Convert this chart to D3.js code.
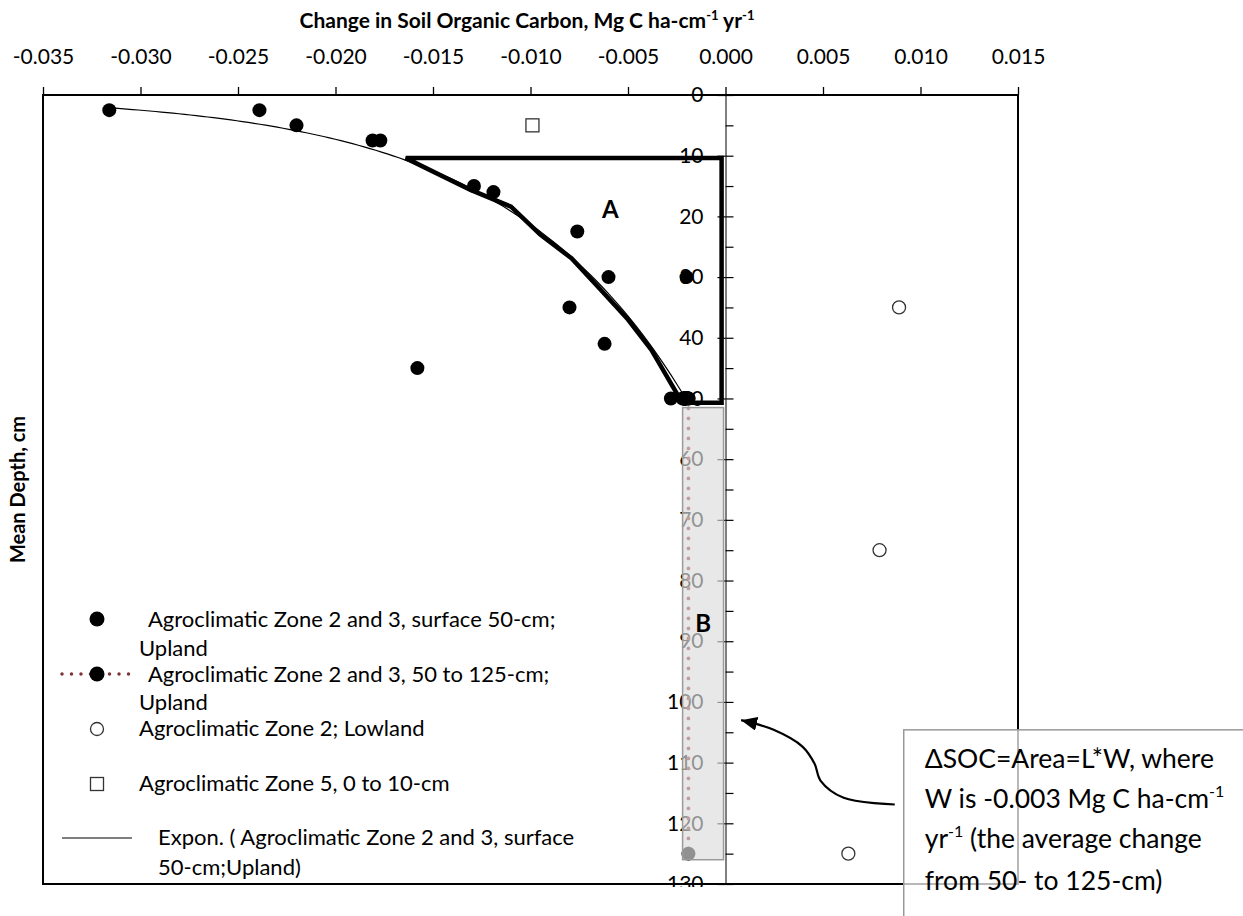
<!DOCTYPE html>
<html lang="en">
<head>
<meta charset="UTF-8">
<title>Change in SOC with depth</title>
<script src="https://d3js.org/d3.v7.min.js"></script>
<style>
    body{ margin:0; background:#fff; }
    svg{ display:block; }
    text{ font-family: Lato, "Open Sans", sans-serif; fill:#000; }
</style>
</head>
<body>
<script>
const width = 1243
const height = 916

// axis ticks
const xTickValues = [-0.035, -0.030, -0.025, -0.020, -0.015, -0.010, -0.005, 0.000, 0.005, 0.010, 0.015]
const depthTicks = [0, 10, 20, 30, 40, 50, 60, 70, 80, 90, 100, 110, 120, 130]
const depthMinorTicks = [5, 15, 25, 35, 45, 55, 65, 75, 85, 95, 105, 115, 125]

// Agroclimatic Zone 2 and 3, surface 50-cm; Upland
const uplandX = [-0.0316, -0.0239, -0.0220, -0.0181, -0.0177, -0.0129, -0.0119, -0.0158,
                 -0.0076, -0.0060, -0.0080, -0.0062, -0.0020, -0.0028, -0.0022, -0.0019]
const uplandDepth = [2.5, 2.5, 5, 7.5, 7.5, 15, 16, 45, 22.5, 30, 35, 41, 30, 50, 50, 50]
// Agroclimatic Zone 2 and 3, 50 to 125-cm; Upland
const deepX = [-0.0019, -0.0019]
const deepDepth = [50, 125]
// Agroclimatic Zone 2; Lowland
const lowlandX = [0.0089, 0.0079, 0.0063]
const lowlandDepth = [35, 75, 125]
// Agroclimatic Zone 5, 0 to 10-cm
const zone5X = [-0.0099]
const zone5Depth = [5]

// hand drawn area A (change, depth)
const areaA = [[-0.0002, 10.4], [-0.0164, 10.4], [-0.0131, 15.6], [-0.0110, 18.4], [-0.0095, 23.0],
               [-0.0079, 26.9], [-0.0064, 32.1], [-0.0050, 37.0], [-0.0038, 42.0], [-0.0028, 47.5],
               [-0.0024, 49.7], [-0.00175, 50.7], [-0.0002, 50.7]]
// area B box: W x L
const areaBX = [-0.0022, -0.0001]
const areaBDepth = [51.5, 126]
// curved arrow from note to area B
const arrowPts = [[0.00868, 116.9], [0.00606, 115.8], [0.00488, 113.0], [0.00457, 110.2],
                  [0.00396, 107.4], [0.00247, 104.6], [0.00080, 103.0]]

const legendLabels = [
    [" Agroclimatic Zone 2 and 3, surface 50-cm;", "Upland"],
    [" Agroclimatic Zone 2 and 3, 50 to 125-cm;", "Upland"],
    ["Agroclimatic Zone 2; Lowland"],
    ["Agroclimatic Zone 5, 0 to 10-cm"],
    ["Expon. ( Agroclimatic Zone 2 and 3, surface", "50-cm;Upland)"]
]

let svg = d3.select("body").append("svg")
            .attr("width", width).attr("height", height)

const x = d3.scaleLinear().domain([-0.035, 0.015]).range([43, 1018])
const y = d3.scaleLinear().domain([0, 130]).range([95, 884])

// labels of the depth axis get cut just under the frame
svg.append("defs").append("clipPath").attr("id", "clipLabels")
    .append("rect").attr("x", -800).attr("y", 0).attr("width", 1600).attr("height", 887)

const marker = svg.select("defs").append("marker")
    .attr("id", "arrowHead")
    .attr("markerUnits", "userSpaceOnUse")
    .attr("markerWidth", 18).attr("markerHeight", 14)
    .attr("refX", 16).attr("refY", 7)
    .attr("orient", "auto")
marker.append("path").attr("d", "M0,0 L16,7 L0,14 Z").attr("fill", "#000")

// frame
svg.append("rect")
    .attr("x", x(-0.035)).attr("y", y(0))
    .attr("width", x(0.015) - x(-0.035)).attr("height", y(130) - y(0))
    .attr("fill", "none").attr("stroke", "#000").attr("stroke-width", 2)

// top axis
let gTop = svg.append("g")
    .attr("transform", `translate(0,${y(0)})`)
    .call(d3.axisTop(x).tickValues(xTickValues).tickFormat(d => d.toFixed(3))
            .tickSizeInner(8).tickSizeOuter(0).tickPadding(23))
gTop.select(".domain").remove()
gTop.attr("font-family", null).attr("font-size", 21)
gTop.selectAll("line").attr("stroke-width", 1.3)

// vertical axis crossing at 0
let gY = svg.append("g").attr("transform", `translate(${x(0)},0)`)
let gYLeft = gY.append("g")
    .attr("clip-path", "url(#clipLabels)")
    .call(d3.axisLeft(y).tickValues(depthTicks).tickFormat(d3.format("d"))
            .tickSizeInner(8).tickSizeOuter(0).tickPadding(14))
gYLeft.attr("font-family", null).attr("font-size", 21)
let gYRight = gY.append("g")
    .call(d3.axisRight(y).tickValues(depthTicks.concat(depthMinorTicks)).tickFormat("")
            .tickSizeInner(8).tickSizeOuter(0))
gYRight.select(".domain").remove()
gY.selectAll("line").attr("stroke-width", 1.2)

// exponential trend line, least squares on ln(depth)
const xm = d3.mean(uplandX)
const lm = d3.mean(uplandDepth, d => Math.log(d))
const b = d3.sum(uplandX, (d, i) => (d - xm) * (Math.log(uplandDepth[i]) - lm)) /
          d3.sum(uplandX, d => (d - xm) * (d - xm))
const a = Math.exp(lm - b * xm)
const xExt = d3.extent(uplandX)
const trend = d3.range(101).map(i => {
    const xv = xExt[0] + (xExt[1] - xExt[0]) * i / 100
    return [xv, a * Math.exp(b * xv)]
})
svg.append("path")
    .attr("d", d3.line().x(d => x(d[0])).y(d => y(d[1]))(trend))
    .attr("fill", "none").attr("stroke", "#000").attr("stroke-width", 1.2)

// area A outline
svg.append("path")
    .attr("d", d3.line().x(d => x(d[0])).y(d => y(d[1]))(areaA) + "Z")
    .attr("fill", "none").attr("stroke", "#000").attr("stroke-width", 4.5)
    .attr("stroke-linejoin", "miter")

// series 2 dotted line + points
svg.append("path")
    .attr("d", d3.line().x(d => x(d[0])).y(d => y(d[1]))(deepX.map((d, i) => [d, deepDepth[i]])))
    .attr("stroke", "#8a2a2a").attr("stroke-width", 3.8)
    .attr("stroke-dasharray", "0,10").attr("stroke-linecap", "round")
svg.append("g").selectAll("circle")
    .data(deepX.map((d, i) => [d, deepDepth[i]]))
    .enter().append("circle")
    .attr("cx", d => x(d[0])).attr("cy", d => y(d[1])).attr("r", 7).attr("fill", "#000")

// series 1 points
svg.append("g").selectAll("circle")
    .data(uplandX.map((d, i) => [d, uplandDepth[i]]))
    .enter().append("circle")
    .attr("cx", d => x(d[0])).attr("cy", d => y(d[1])).attr("r", 7).attr("fill", "#000")

// lowland
svg.append("g").selectAll("circle")
    .data(lowlandX.map((d, i) => [d, lowlandDepth[i]]))
    .enter().append("circle")
    .attr("cx", d => x(d[0])).attr("cy", d => y(d[1])).attr("r", 6.5)
    .attr("fill", "#fff").attr("stroke", "#333").attr("stroke-width", 1.3)

// zone 5
svg.append("g").selectAll("rect")
    .data(zone5X.map((d, i) => [d, zone5Depth[i]]))
    .enter().append("rect")
    .attr("x", d => x(d[0]) - 6.5).attr("y", d => y(d[1]) - 6.5)
    .attr("width", 13).attr("height", 13)
    .attr("fill", "#fff").attr("stroke", "#333").attr("stroke-width", 1.3)

// area B box
svg.append("rect")
    .attr("x", x(areaBX[0])).attr("y", y(areaBDepth[0]))
    .attr("width", x(areaBX[1]) - x(areaBX[0])).attr("height", y(areaBDepth[1]) - y(areaBDepth[0]))
    .attr("fill", "#dcdcdc").attr("fill-opacity", 0.66)
    .attr("stroke", "#9a9a9a").attr("stroke-width", 1.5)

svg.append("text").attr("x", x(-0.0059)).attr("y", y(18.8)).attr("dy", "0.36em")
    .attr("text-anchor", "middle").attr("font-weight", "bold").attr("font-size", 24).text("A")
svg.append("text").attr("x", x(-0.00114)).attr("y", y(87)).attr("dy", "0.36em")
    .attr("text-anchor", "middle").attr("font-weight", "bold").attr("font-size", 24).text("B")

// axis titles
const title = svg.append("text").attr("x", 527).attr("y", 28)
    .attr("text-anchor", "middle").attr("font-weight", "bold").attr("font-size", 21)
title.append("tspan").text("Change in Soil Organic Carbon,  Mg C ha-cm")
title.append("tspan").attr("dy", -8).attr("font-size", 13).text("-1")
title.append("tspan").attr("dy", 8).text(" yr")
title.append("tspan").attr("dy", -8).attr("font-size", 13).text("-1")

svg.append("text")
    .attr("transform", `translate(25,${(y(0) + y(130)) / 2}) rotate(-90)`)
    .attr("text-anchor", "middle").attr("font-weight", "bold").attr("font-size", 20)
    .text("Mean Depth, cm")

// legend
let gLeg = svg.append("g").attr("font-size", 22)
const legRows = [
    { sym: "dot", sy: 619, tx: [143, 139], ty: [627, 656] },
    { sym: "dotline", sy: 674, tx: [143, 139], ty: [682, 710] },
    { sym: "open", sy: 729, tx: [139], ty: [736] },
    { sym: "square", sy: 784, tx: [139], ty: [791] },
    { sym: "line", sy: 838, tx: [158, 158], ty: [845, 875] }
]
legRows.forEach((r, i) => {
    if (r.sym == "dotline") {
        gLeg.append("line").attr("x1", 62).attr("x2", 130).attr("y1", r.sy).attr("y2", r.sy)
            .attr("stroke", "#7d3434").attr("stroke-width", 3.5)
            .attr("stroke-dasharray", "0,9.5").attr("stroke-linecap", "round")
    }
    if (r.sym == "dot" || r.sym == "dotline") {
        gLeg.append("circle").attr("cx", 97).attr("cy", r.sy).attr("r", 7.5).attr("fill", "#000")
    } else if (r.sym == "open") {
        gLeg.append("circle").attr("cx", 97).attr("cy", r.sy).attr("r", 6.5)
            .attr("fill", "#fff").attr("stroke", "#333").attr("stroke-width", 1.3)
    } else if (r.sym == "square") {
        gLeg.append("rect").attr("x", 90.5).attr("y", r.sy - 6.5).attr("width", 13).attr("height", 13)
            .attr("fill", "#fff").attr("stroke", "#333").attr("stroke-width", 1.3)
    } else if (r.sym == "line") {
        gLeg.append("line").attr("x1", 62).attr("x2", 132).attr("y1", r.sy).attr("y2", r.sy)
            .attr("stroke", "#000").attr("stroke-width", 1.2)
    }
    legendLabels[i].forEach((t, j) => {
        gLeg.append("text").attr("x", r.tx[j]).attr("y", r.ty[j])
            .attr("xml:space", "preserve").text(t)
    })
})

// arrow
svg.append("path")
    .attr("d", d3.line().x(d => x(d[0])).y(d => y(d[1])).curve(d3.curveCatmullRom)(arrowPts))
    .attr("fill", "none").attr("stroke", "#000").attr("stroke-width", 2.2)
    .attr("marker-end", "url(#arrowHead)")

// note box
const bx = x(0.00914), by = y(104.6)
let gNote = svg.append("g").attr("transform", `translate(${bx},${by})`)
gNote.append("rect").attr("width", 400).attr("height", 260)
    .attr("fill", "#fff").attr("fill-opacity", 0.72)
    .attr("stroke", "#999").attr("stroke-width", 1.5)
let nt = gNote.append("text").attr("font-size", 26.5)
nt.append("tspan").attr("x", 21).attr("y", 38).text("ΔSOC=Area=L*W, where")
nt.append("tspan").attr("x", 21).attr("y", 78).text("W is -0.003 Mg C ha-cm")
nt.append("tspan").attr("dy", -11).attr("font-size", 16).text("-1")
nt.append("tspan").attr("x", 21).attr("y", 118).text("yr")
nt.append("tspan").attr("dy", -11).attr("font-size", 16).text("-1")
nt.append("tspan").attr("dy", 11).text(" (the average change")
nt.append("tspan").attr("x", 21).attr("y", 160).text("from 50- to 125-cm)")
</script>
</body>
</html>
